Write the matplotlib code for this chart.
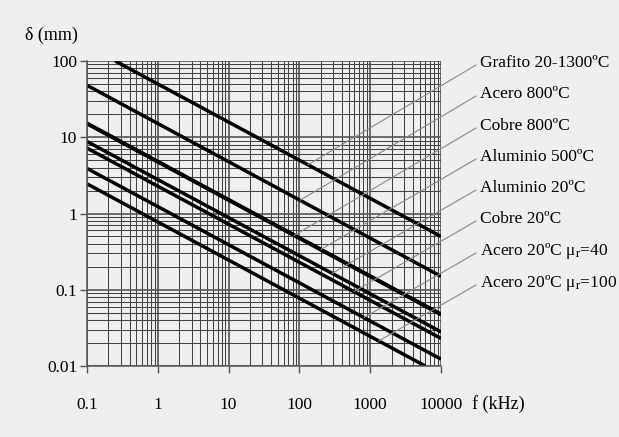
import numpy as np
import matplotlib
matplotlib.use('Agg')
import matplotlib.pyplot as plt

plt.rcParams['font.family'] = ['Liberation Serif', 'DejaVu Serif']
plt.rcParams['mathtext.fontset'] = 'stix'

# materials, top line to bottom line
materials = [
    'Grafito 20-1300ºC',
    'Acero 800ºC',
    'Cobre 800ºC',
    'Aluminio 500ºC',
    'Aluminio 20ºC',
    'Cobre 20ºC',
    r'Acero 20ºC μ$_\mathrm{r}$=40',
    r'Acero 20ºC μ$_\mathrm{r}$=100',
]
# line end points (f in kHz, delta in mm)
f_start = [0.25, 0.1, 0.1, 0.1, 0.1, 0.1, 0.1, 0.1]
d_start = [100, 48, 15.0, 15.3, 8.8, 7.2, 3.9, 2.45]
f_end = [10000, 10000, 10000, 10000, 10000, 10000, 10000, 6000]
d_end = [0.5, 0.15, 0.047, 0.048, 0.028, 0.023, 0.0123, 0.01]
# frequency where each leader line touches its curve
f_leader = [132, 102, 84, 202, 290, 590, 815, 1320]

x_ticks = [0.1, 1, 10, 100, 1000, 10000]
x_labels = ['0.1', '1', '10', '100', '1000', '10000']
y_ticks = [0.01, 0.1, 1, 10, 100]
y_labels = ['0.01', '0.1', '1', '10', '100']

W, H = 619, 437
fig = plt.figure(figsize=(W / 100, H / 100), dpi=100, facecolor='#efefef')
ax = fig.add_axes([87 / W, 1 - 366 / H, 354 / W, 305 / H])
ax.set_facecolor('#efefef')

ax.set_xscale('log')
ax.set_yscale('log')
ax.set_xlim(0.1, 10000)
ax.set_ylim(0.01, 100)

ax.grid(True, which='major', color='#555555', lw=1.2)
ax.grid(True, which='minor', color='#444444', lw=0.75)
ax.set_axisbelow(True)

for i in range(len(materials)):
    ax.plot([f_start[i], f_end[i]], [d_start[i], d_end[i]], color='black', lw=2.5,
            solid_capstyle='butt')

ax.set_xticks(x_ticks)
ax.set_xticklabels(x_labels)
ax.set_yticks(y_ticks)
ax.set_yticklabels(y_labels)
ax.tick_params(which='major', length=5, width=1, color='#555555', labelsize=12.5)
ax.tick_params(axis='x', which='major', pad=17)
ax.tick_params(axis='y', which='major', pad=2)
ax.tick_params(which='minor', length=0)
for s in ['top', 'right']:
    ax.spines[s].set_visible(False)
for s in ['left', 'bottom']:
    ax.spines[s].set_color('#555555')
    ax.spines[s].set_linewidth(1.1)

# labels and leaders on the right
label_y = [63, 94, 126, 157, 188, 219, 251, 283]
for i, name in enumerate(materials):
    lf0, lf1 = np.log10(f_start[i]), np.log10(f_end[i])
    ld0, ld1 = np.log10(d_start[i]), np.log10(d_end[i])
    t = (np.log10(f_leader[i]) - lf0) / (lf1 - lf0)
    d_t = 10 ** (ld0 + t * (ld1 - ld0))
    ax.annotate('', xy=(f_leader[i], d_t), xycoords='data',
                xytext=(476 / W, 1 - (label_y[i] + 2) / H), textcoords='figure fraction',
                arrowprops=dict(arrowstyle='-', color='#8a8a8a', lw=0.8,
                                shrinkA=0, shrinkB=0))
    fig.text(480 / W, 1 - label_y[i] / H, name, ha='left', va='center', fontsize=12.5)

fig.text(25 / W, 1 - 35 / H, 'δ (mm)', ha='left', va='center', fontsize=13)
fig.text(472 / W, 1 - 404 / H, 'f (kHz)', ha='left', va='center', fontsize=13)

fig.savefig('out.png', dpi=100, facecolor=fig.get_facecolor())
